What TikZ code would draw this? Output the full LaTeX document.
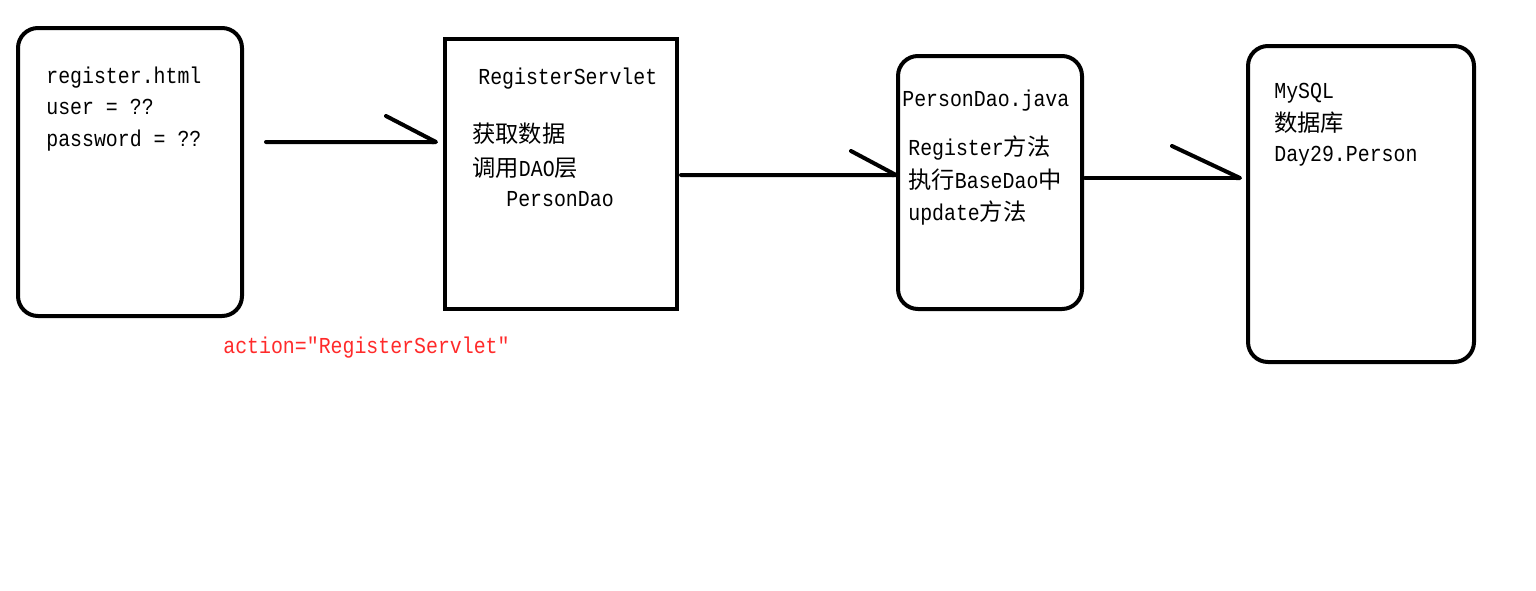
\documentclass[tikz,border=0pt]{standalone}
\usepackage{fontspec}
\newfontfamily\latinMono[FakeStretch=0.87]{Liberation Mono}
\newfontfamily\cjk[Scale=1.02]{Noto Sans CJK SC}
\usepackage{xcolor}
\definecolor{traitNoir}{HTML}{000000}
\definecolor{texteRouge}{HTML}{FF2A2A}
\usepackage{tikz}
\usetikzlibrary{arrows.meta, positioning, calc}
\tikzset{
  %% ── Boxes ────────────────────────────────────────────────────────────
  %% Thick hand-drawn outlines; the servlet box is the only square one.
  boite/.style         = {draw=traitNoir, line width=0.08cm, outer sep=0pt,
                          inner sep=0pt, fill=white},
  boiteArrondie/.style = {boite, rounded corners=0.4cm},
  %%
  %% ── Arrows ───────────────────────────────────────────────────────────
  %% One barb only, on the upper side, as drawn with a mouse.
  demiFleche/.style    = {draw=traitNoir, line width=0.08cm, line cap=round,
                          line join=round},
  %%
  %% ── Text ─────────────────────────────────────────────────────────────
  ligne/.style         = {anchor=west, inner sep=0pt, text height=0.34cm,
                          text depth=0.10cm,
                          font=\latinMono\fontsize{13pt}{16pt}\selectfont},
  ligneRouge/.style    = {ligne, text=texteRouge},
}

\begin{document}
\begin{tikzpicture}[x=1cm, y=1cm]

\useasboundingbox (0, 0) rectangle (30.72, -11.80);

%% Les quatre boites, de la page HTML a la base MySQL.
\node[boiteArrondie, minimum width=4.48cm, minimum height=5.76cm] (html) at (2.60, -3.44) {};
\node[boite, minimum width=4.64cm, minimum height=5.40cm] (servlet) at (11.22, -3.48) {};
\node[boiteArrondie, minimum width=3.68cm, minimum height=5.06cm] (dao) at (19.80, -3.65) {};
\node[boiteArrondie, minimum width=4.52cm, minimum height=6.32cm] (mysql) at (27.22, -4.08) {};

%% Textes des boites.
\foreach \t/\y [count=\i] in {register.html/-1.54, user = ??/-2.16, password = ??/-2.80}
  \node[ligne] (txtHtml\i) at (0.92, \y) {\t};

\node[ligne] (txtServlet1) at (9.56, -1.56) {RegisterServlet};
\node[ligne] (txtServlet2) at (9.44, -2.73) {\cjk 获取数据};
\node[ligne] (txtServlet3) at (9.44, -3.40) {{\cjk 调用}DAO{\cjk 层}};
\node[ligne] (txtServlet4) at (10.12, -4.00) {PersonDao};

\node[ligne] (txtDao1) at (18.04, -2.00) {PersonDao.java};
\node[ligne] (txtDao2) at (18.16, -2.98) {Register{\cjk 方法}};
\node[ligne] (txtDao3) at (18.16, -3.64) {{\cjk 执行}BaseDao{\cjk 中}};
\node[ligne] (txtDao4) at (18.16, -4.28) {update{\cjk 方法}};

\node[ligne] (txtMysql1) at (25.48, -1.84) {MySQL};
\node[ligne] (txtMysql2) at (25.48, -2.51) {\cjk 数据库};
\node[ligne] (txtMysql3) at (25.48, -3.10) {Day29.Person};

\node[ligneRouge] (action) at (4.46, -6.94) {action="RegisterServlet"};

%% Les fleches, chacune avec sa propre taille de pointe.
\draw[demiFleche, -{Straight Barb[left, length=1.00cm, width=1.04cm, round]}]
  ([shift={(0.48, 0.60)}]html.east) -- ([shift={(-0.14, 0.64)}]servlet.west);
\draw[demiFleche, -{Straight Barb[left, length=0.90cm, width=0.96cm, round]}]
  ([shift={(0.08, -0.02)}]servlet.east) -- ([shift={(0, 0.15)}]dao.west);
\draw[demiFleche, -{Straight Barb[left, length=1.36cm, width=1.28cm, round]}]
  ([shift={(0.06, 0.09)}]dao.east) -- ([shift={(-0.12, 0.52)}]mysql.west);

\end{tikzpicture}
\end{document}
